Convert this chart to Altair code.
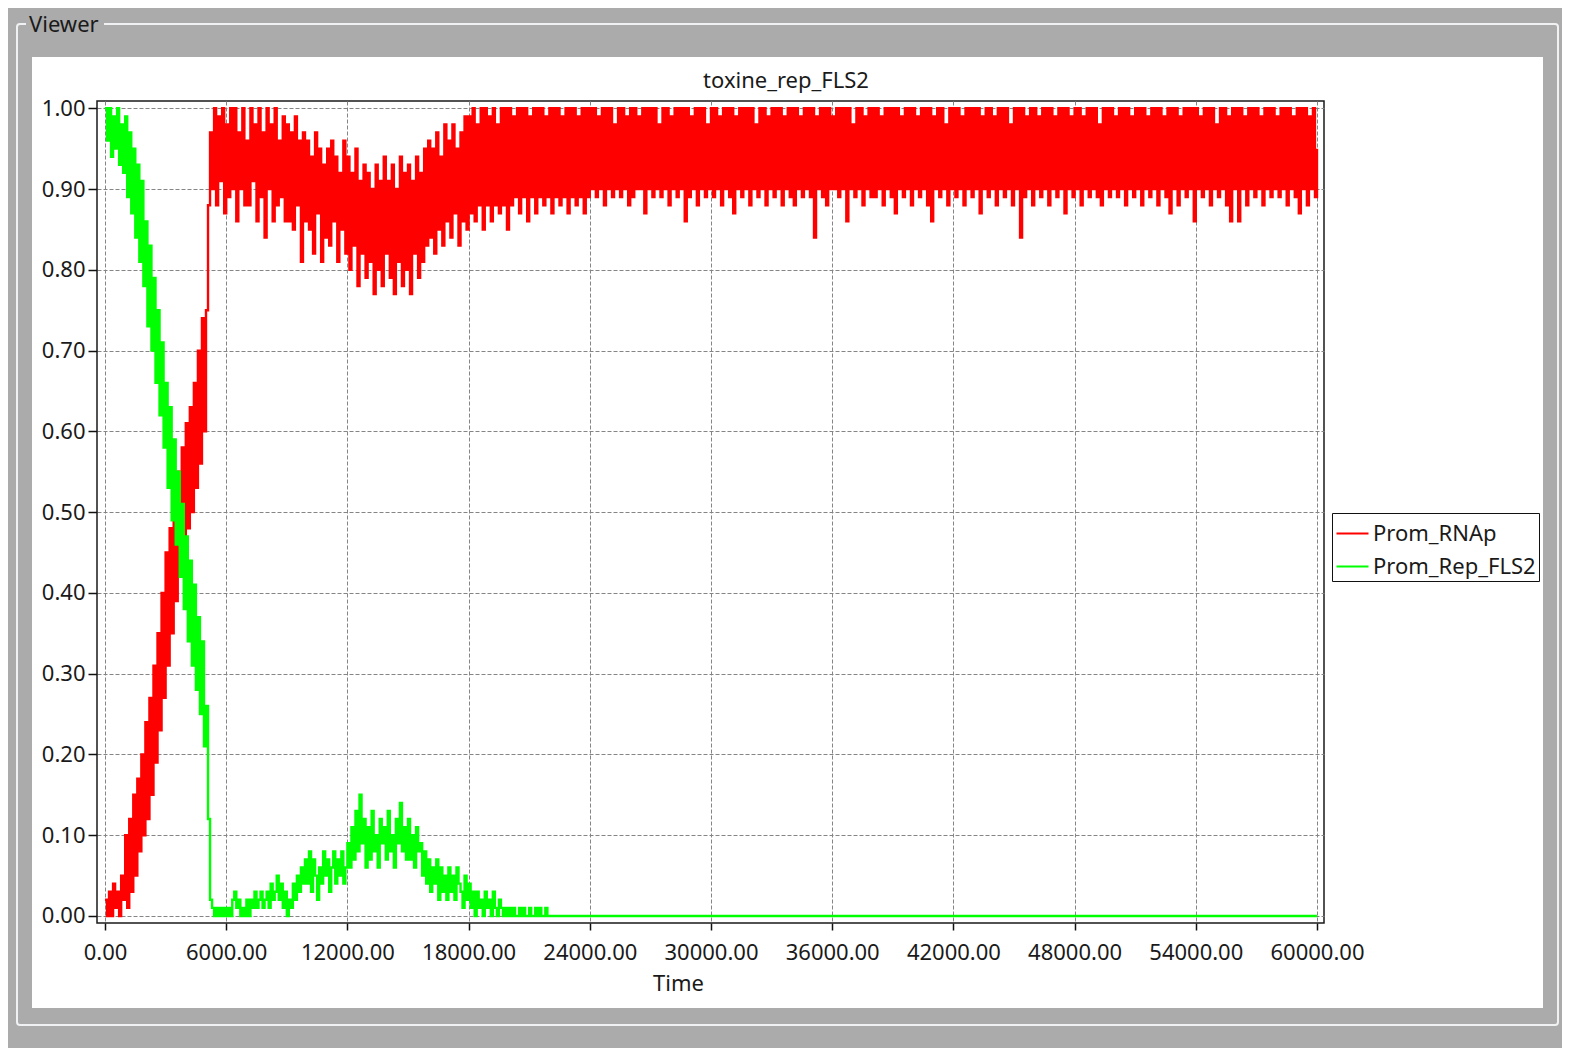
import altair as alt
import pandas as pd

# ---- data (values in hundredths, one sample every 100 time units) ----
STEP = 100

red_rise = [2, 0, 3, 0, 4, 1, 3, 0, 5, 2,
            10, 1, 12, 3, 15, 5, 17, 8, 20, 10,
            24, 12, 27, 15, 31, 19, 35, 23, 40, 27,
            45, 31, 48, 35, 51, 39, 55, 42, 58, 45,
            61, 48, 63, 50, 66, 53, 70, 56, 74, 60]

red_5000_24000 = [75, 88, 97, 90, 100, 88, 99, 91, 100, 87,
                  98, 89, 100, 90, 100, 86, 97, 90, 100, 88,
                  96, 88, 100, 91, 98, 86, 100, 89, 97, 84,
                  100, 90, 98, 86, 100, 88, 96, 89, 99, 86,
                  98, 86, 97, 85, 99, 88, 96, 81, 97, 86,
                  96, 85, 94, 82, 97, 87, 95, 81, 93, 84,
                  95, 83, 96, 86, 94, 81, 92, 85, 96, 82,
                  94, 80, 92, 83, 95, 78, 91, 82, 93, 79,
                  92, 81, 90, 77, 93, 80, 91, 78, 94, 82,
                  91, 79, 93, 77, 90, 81, 94, 78, 92, 80,
                  93, 77, 91, 82, 94, 79, 92, 81, 95, 83,
                  96, 84, 95, 82, 97, 85, 94, 83, 98, 86,
                  96, 84, 98, 87, 95, 83, 97, 86, 99, 85,
                  99, 87, 100, 86, 98, 88, 100, 85, 100, 88,
                  99, 86, 100, 88, 98, 87, 100, 88, 100, 85,
                  100, 88, 99, 89, 100, 87, 100, 89, 100, 86,
                  99, 89, 100, 87, 100, 89, 100, 88, 99, 89,
                  100, 87, 100, 89, 100, 88, 99, 89, 100, 87,
                  100, 89, 100, 88, 99, 89, 100, 87, 100, 89]

red_24000_42000 = [100, 90, 100, 89, 99, 90, 100, 88, 100, 90, 100, 89, 98, 90, 100, 89, 100, 90, 99, 88,
                   100, 89, 100, 90, 99, 90, 100, 87, 100, 90, 100, 89, 100, 90, 98, 89, 100, 90, 100, 88,
                   99, 90, 100, 89, 100, 90, 100, 86, 100, 89, 99, 90, 100, 88, 100, 90, 100, 89, 98, 90,
                   100, 89, 100, 90, 99, 88, 100, 90, 100, 89, 100, 87, 99, 90, 100, 89, 100, 90, 100, 88,
                   100, 90, 98, 89, 100, 90, 100, 88, 99, 90, 100, 89, 100, 90, 100, 88, 99, 90, 100, 89,
                   100, 88, 100, 90, 99, 89, 100, 90, 100, 89, 100, 84, 99, 90, 100, 89, 100, 88, 100, 90,
                   99, 90, 100, 89, 100, 90, 100, 86, 100, 90, 98, 89, 100, 90, 100, 88, 99, 90, 100, 89,
                   100, 89, 100, 90, 99, 88, 100, 90, 100, 89, 100, 87, 100, 90, 99, 89, 100, 90, 100, 88,
                   100, 90, 99, 89, 100, 90, 100, 88, 100, 86, 99, 90, 100, 89, 100, 90, 98, 88, 100, 90]

red_42000_60000 = [100, 89, 100, 90, 99, 88, 100, 90, 100, 89, 100, 90, 100, 87, 99, 90, 100, 89, 100, 90,
                   99, 88, 100, 90, 100, 89, 100, 90, 98, 88, 100, 90, 100, 84, 100, 89, 99, 90, 100, 88,
                   100, 90, 99, 89, 100, 90, 100, 88, 100, 90, 99, 89, 100, 90, 100, 87, 100, 90, 99, 89,
                   100, 90, 100, 88, 99, 90, 100, 89, 100, 90, 100, 89, 98, 88, 100, 90, 100, 89, 100, 90,
                   99, 89, 100, 90, 100, 88, 100, 90, 99, 89, 100, 90, 100, 88, 100, 90, 99, 89, 100, 90,
                   100, 88, 100, 90, 99, 89, 100, 87, 100, 90, 100, 88, 99, 90, 100, 89, 100, 90, 100, 86,
                   100, 90, 99, 89, 100, 90, 100, 88, 100, 90, 98, 89, 100, 90, 100, 88, 99, 86, 100, 90,
                   100, 86, 100, 90, 99, 88, 100, 90, 100, 89, 100, 90, 99, 88, 100, 90, 100, 89, 100, 90,
                   99, 89, 100, 90, 100, 88, 100, 90, 99, 89, 100, 87, 100, 90, 100, 88, 99, 90, 100, 89,
                   95]

green_fall = [100, 96, 100, 94, 99, 95, 100, 93, 98, 92,
              99, 89, 97, 87, 95, 84, 93, 81, 91, 78,
              86, 73, 83, 70, 79, 66, 75, 62, 71, 58,
              66, 53, 63, 49, 59, 46, 55, 42, 51, 38,
              47, 34, 44, 31, 41, 28, 37, 25, 34, 21]

green_low = [26, 12, 2, 1, 0, 1, 0, 1, 0, 1,
             0, 1, 0, 2, 3, 1, 2, 0, 1, 0,
             2, 0, 2, 1, 3, 1, 2, 3, 1, 2,
             3, 1, 4, 2, 3, 5, 2, 4, 1, 3,
             0, 2, 1, 4, 2, 5, 3, 6, 4, 7,
             4, 8, 3, 7, 5, 2, 6, 4, 8, 5,
             7, 3, 6, 8, 4, 7, 5, 8, 4, 6,
             9, 6, 11, 7, 13, 8, 15, 9, 12, 6,
             11, 7, 13, 8, 10, 6, 12, 9, 11, 7,
             13, 8, 10, 6, 12, 9, 14, 8, 11, 7,
             12, 7, 10, 6, 11, 8, 9, 5, 8, 4,
             7, 3, 6, 4, 7, 2, 6, 3, 5, 2,
             6, 3, 5, 2, 6, 4, 3, 1, 5, 2,
             4, 1, 3, 0, 3, 1, 2, 0, 3, 1,
             2, 0, 3, 1, 0, 2, 1, 0, 1, 0,
             1, 0, 1, 0, 0, 1, 0, 1, 0, 0,
             1, 0, 0, 1, 0, 1, 0, 0, 1, 0,
             0]
green_end = [(60000, 0)]

series_names = ["Prom_RNAp", "Prom_Rep_FLS2"]
series_colors = ["#ff0000", "#00ff00"]
x_ticks = [0, 6000, 12000, 18000, 24000, 30000, 36000, 42000, 48000, 54000, 60000]
y_ticks = [0.0, 0.1, 0.2, 0.3, 0.4, 0.5, 0.6, 0.7, 0.8, 0.9, 1.0]

red_vals = red_rise + red_5000_24000 + red_24000_42000 + red_42000_60000
green_vals = green_fall + green_low

rows = []
for i, v in enumerate(red_vals):
    rows.append({"time": i * STEP, "value": v / 100, "series": series_names[0]})
for i, v in enumerate(green_vals):
    rows.append({"time": i * STEP, "value": v / 100, "series": series_names[1]})
for t, v in green_end:
    rows.append({"time": t, "value": v / 100, "series": series_names[1]})
df = pd.DataFrame(rows)

FONT = "Noto Sans"
TXT = "#1a1a1a"
GRAY = "#ababab"
W, H = 1227, 822

lines = alt.Chart(df).mark_line(interpolate="step-after", strokeWidth=2.4).encode(
    x=alt.X("time:Q",
            scale=alt.Scale(domain=[-396, 60347], nice=False, zero=False),
            axis=alt.Axis(values=x_ticks, format=".2f", title="Time", domain=False,
                          tickSize=7, tickColor="#111", tickWidth=1.5, labelPadding=12,
                          labelFontSize=22, labelFont=FONT, labelColor=TXT,
                          labelFlush=False, labelOverlap=False,
                          grid=True, gridDash=[4, 2], gridColor="#858585", gridWidth=1,
                          titleFont=FONT, titleFontSize=22, titleFontWeight="normal",
                          titleColor=TXT, titleX=581, titleY=60, titleAlign="center",
                          titleBaseline="middle")),
    y=alt.Y("value:Q",
            scale=alt.Scale(domain=[-0.0087, 1.009], nice=False, zero=False),
            axis=alt.Axis(values=y_ticks, format=".2f", title=None, domain=False,
                          tickSize=9, tickColor="#111", tickWidth=1.5, labelPadding=3,
                          labelFontSize=22, labelFont=FONT, labelColor=TXT,
                          labelFlush=False, labelOverlap=False,
                          grid=True, gridDash=[4, 2], gridColor="#858585", gridWidth=1)),
    color=alt.Color("series:N",
                    scale=alt.Scale(domain=series_names, range=series_colors),
                    title=None,
                    legend=alt.Legend(orient="none", legendX=1235, legendY=412,
                                      strokeColor="#111", fillColor="white",
                                      padding=3, rowPadding=4, symbolType="stroke",
                                      symbolSize=1024, symbolStrokeWidth=2.2,
                                      labelFont=FONT, labelFontSize=22, labelColor=TXT,
                                      labelOffset=3, labelLimit=400)),
)

one = alt.Data(values=[{"k": 1}])


def box(x, x2, y, y2, **kw):
    return alt.Chart(one).mark_rect(**kw).encode(
        x=alt.value(x), x2=alt.value(x2), y=alt.value(y), y2=alt.value(y2))


def label(text, x, y, **kw):
    return alt.Chart(one).mark_text(text=text, font=FONT, fontSize=22, color=TXT,
                                    baseline="alphabetic", **kw).encode(
        x=alt.value(x), y=alt.value(y))


decor = [
    box(-89, 1465, -93, -44, color=GRAY),
    box(-89, 1465, 907, 947, color=GRAY),
    box(-89, -65, -44, 907, color=GRAY),
    box(1446, 1465, -44, 907, color=GRAY),
    box(-80, 1461, -77, 924, fillOpacity=0, stroke="#eff1f3", strokeWidth=2, cornerRadius=3),
    box(-71, 7, -86, -66, color=GRAY),
    label("Viewer", -68, -69, align="left"),
    label("toxine_rep_FLS2", 689, -13, align="center"),
]

chart = alt.layer(lines, *decor).properties(
    width=W, height=H,
    padding={"left": 89, "top": 93, "right": 238, "bottom": 125},
    autosize=alt.AutoSizeParams(type="none"),
    background="white",
).configure_view(stroke="#1a1a1a", strokeWidth=1.5)

chart.save("out.html", embed_options={"renderer": "svg", "actions": False})
